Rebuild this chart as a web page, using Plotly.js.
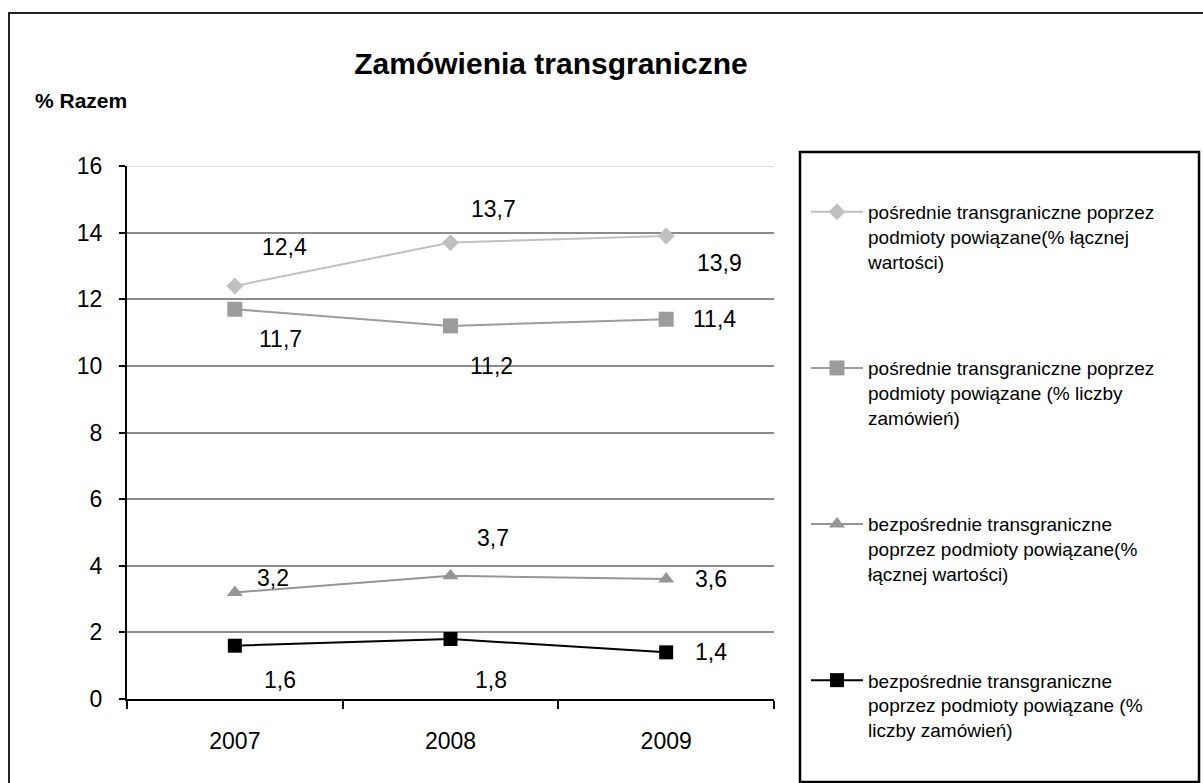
<!DOCTYPE html>
<html>
<head>
<meta charset="utf-8">
<script src="https://cdn.plot.ly/plotly-3.0.1.min.js"></script>
<style>html,body{margin:0;padding:0;background:#fff;}#chart{width:1203px;height:783px;}</style>
</head>
<body>
<div id="chart"></div>
<script>
// ---- data ----
var years = ['2007', '2008', '2009'];
var seriesNames = [
  'pośrednie transgraniczne poprzez<br>podmioty powiązane(% łącznej<br>wartości)',
  'pośrednie transgraniczne poprzez<br>podmioty powiązane (% liczby<br>zamówień)',
  'bezpośrednie transgraniczne<br>poprzez podmioty powiązane(%<br>łącznej wartości)',
  'bezpośrednie transgraniczne<br>poprzez podmioty powiązane (%<br>liczby zamówień)'
];
var indirectValue = [12.4, 13.7, 13.9];
var indirectCount = [11.7, 11.2, 11.4];
var directValue = [3.2, 3.7, 3.6];
var directCount = [1.6, 1.8, 1.4];
var yTicks = [0, 2, 4, 6, 8, 10, 12, 14, 16];

// ---- styles ----
var seriesData = [indirectValue, indirectCount, directValue, directCount];
var colors = ['#c0c0c0', '#9c9c9c', '#969696', '#000000'];
var symbols = ['diamond', 'square', 'triangle-up', 'square'];
var msizes = [13, 15, 14, 14];
// label pixel offsets [dx, dy(up)]
var labelOffsets = [
  [[50, 39], [43, 34], [53, -27]],
  [[46, -30], [41, -40], [48, 0]],
  [[38, 14], [42, 38], [45, 0]],
  [[45, -34], [40, -41], [45, 0]]
];

var FONT = 'Liberation Sans, Arial, sans-serif';
var W = 1203, H = 783;
var L = 127, R = 774, T = 166, B = 699;
function px(x) { return (x - L) / (R - L); }
function py(y) { return (B - y) / (B - T); }

var traces = seriesData.map(function (vals, i) {
  return {
    type: 'scatter', mode: 'lines+markers',
    x: years, y: vals, name: seriesNames[i],
    legendgroup: 'g' + i,
    line: { color: colors[i], width: 2 },
    marker: { color: colors[i], symbol: symbols[i], size: msizes[i] },
    hoverinfo: 'skip'
  };
});

var annotations = [];
seriesData.forEach(function (vals, i) {
  vals.forEach(function (v, j) {
    annotations.push({
      x: j, y: v, xref: 'x', yref: 'y',
      text: String(v).replace('.', ','),
      showarrow: false,
      xshift: labelOffsets[i][j][0], yshift: labelOffsets[i][j][1],
      font: { family: FONT, size: 23, color: '#000' }
    });
  });
});
annotations.push({
  xref: 'paper', yref: 'paper', x: px(33), y: py(100),
  xanchor: 'left', yanchor: 'middle', showarrow: false,
  text: '<b>% Razem</b>', font: { family: FONT, size: 21, color: '#000' }
});

var shapes = [
  { type: 'rect', xref: 'paper', yref: 'paper', x0: px(9), x1: px(1215), y0: py(13), y1: py(800),
    line: { color: '#222', width: 2 }, fillcolor: 'rgba(0,0,0,0)', layer: 'below' },
  { type: 'rect', xref: 'paper', yref: 'paper', x0: px(800), x1: px(1199), y0: py(152), y1: py(782),
    line: { color: '#000', width: 2.5 }, fillcolor: 'rgba(0,0,0,0)', layer: 'above' },
  { type: 'line', xref: 'paper', yref: 'y', x0: 0, x1: 1, y0: 16, y1: 16,
    line: { color: '#dcdcdc', width: 2 }, layer: 'above' }
];

var layout = {
  width: W, height: H,
  margin: { l: L, r: W - R, t: T, b: H - B, pad: 0 },
  paper_bgcolor: '#ffffff', plot_bgcolor: '#ffffff',
  font: { family: FONT, color: '#000' },
  title: {
    text: '<b>Zamówienia transgraniczne</b>',
    font: { family: FONT, size: 30, color: '#000' },
    xref: 'paper', x: px(551), xanchor: 'center',
    yref: 'container', y: 1 - 63 / H, yanchor: 'middle'
  },
  xaxis: {
    type: 'category', range: [-0.5, 2.5],
    showgrid: false, zeroline: false,
    showline: true, linecolor: '#000', linewidth: 2,
    ticks: 'outside', tickson: 'boundaries', ticklen: 8, tickwidth: 2, tickcolor: '#000',
    tickfont: { family: FONT, size: 23, color: '#000' },
    ticklabelstandoff: 20, fixedrange: true
  },
  yaxis: {
    range: [0, 16], tickvals: yTicks, ticktext: yTicks.map(String),
    showgrid: true, gridcolor: '#8c8c8c', gridwidth: 2,
    zeroline: false,
    showline: true, linecolor: '#000', linewidth: 2,
    ticks: 'outside', ticklen: 6, tickwidth: 2, tickcolor: '#000',
    tickfont: { family: FONT, size: 23, color: '#000' },
    ticklabelstandoff: 12, fixedrange: true
  },
  showlegend: true,
  legend: {
    x: px(806), xanchor: 'left', y: py(193), yanchor: 'top',
    bgcolor: 'rgba(0,0,0,0)', borderwidth: 0,
    font: { family: FONT, size: 19, color: '#000' },
    traceorder: 'grouped', tracegroupgap: 79, valign: 'top',
    itemwidth: 52, maxheight: 760
  },
  annotations: annotations,
  shapes: shapes
};

Plotly.newPlot('chart', traces, layout, { displayModeBar: false, staticPlot: true });
</script>
</body>
</html>
